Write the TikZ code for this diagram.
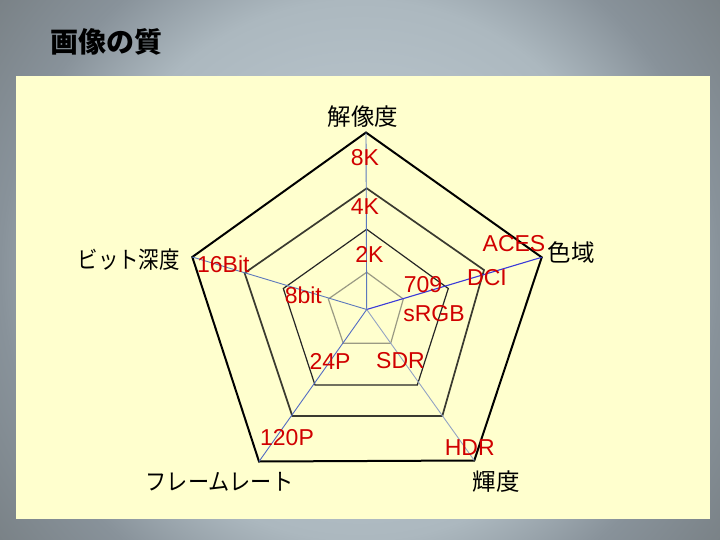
\documentclass[tikz,border=0pt]{standalone}
\usepackage{graphicx}
\usepackage{fontspec}
\setmainfont{Liberation Sans}
\newfontfamily\cjk{Noto Sans CJK JP}
\usetikzlibrary{calc}
\definecolor{bgA}{HTML}{C4D0D8}
\definecolor{bgB}{HTML}{ACB8BF}
\definecolor{bgC}{HTML}{88929A}
\definecolor{bgD}{HTML}{7A8287}
\definecolor{panel}{HTML}{FFFFCE}
\definecolor{lblred}{HTML}{D00000}
\definecolor{spokeA}{HTML}{5C78BC}
\definecolor{spokeB}{HTML}{3A3AD8}
\definecolor{spokeC}{HTML}{93A3C4}
\definecolor{ringB}{HTML}{3A3A30}
\definecolor{ringD}{HTML}{9A9A84}
\pgfdeclareradialshading{bgshade}{\pgfpoint{0bp}{0bp}}{color(0bp)=(bgA); color(15bp)=(bgB); color(20bp)=(bgC); color(25bp)=(bgD); color(50bp)=(bgD)}
\tikzset{
  val/.style={text=lblred, inner sep=0pt, font=\fontsize{23}{23}\selectfont},
  axis/.style={inner sep=0pt, font=\cjk\fontsize{23.5}{24}\selectfont},
  spoke/.style={line width=0.9pt, draw=spokeA},
}
\begin{document}
\begin{tikzpicture}[x=1pt,y=-1pt]
\useasboundingbox (0,0) rectangle (720,540);
\begin{scope}
\clip (0,0) rectangle (720,540);
\shade[shading=bgshade] (-90,-180) rectangle (810,720);
\end{scope}
\fill[panel] (16,76) rectangle (709.5,519);
\node[inner sep=0pt, font=\cjk\bfseries\fontsize{28}{28}\selectfont] (title) at (106.5,42) {画像の質};
% center
\coordinate (c) at (366.7,309.5);
% outer ring
\coordinate (o1) at (366,132.5);
\coordinate (o2) at (541.7,257.3);
\coordinate (o3) at (474.3,460.5);
\coordinate (o4) at (259,461.5);
\coordinate (o5) at (192.3,257);
% second ring
\coordinate (s1) at (366.7,188.3);
\coordinate (s2) at (484,270);
\coordinate (s3) at (442.3,416);
\coordinate (s4) at (292.3,416);
\coordinate (s5) at (244.6,273);
% third ring
\coordinate (t1) at (366.7,229.3);
\coordinate (t2) at (448.3,288.5);
\coordinate (t3) at (417.3,385);
\coordinate (t4) at (315,385);
\coordinate (t5) at (283.3,288.5);
% inner ring
\coordinate (i1) at (366.7,272.3);
\coordinate (i2) at (403.3,299);
\coordinate (i3) at (390.7,343.3);
\coordinate (i4) at (343.3,343.3);
\coordinate (i5) at (328.3,299);
\draw[line width=2pt, line join=miter] (o1) -- (o2) -- (o3) -- (o4) -- (o5) -- cycle;
\draw[line width=1.7pt, draw=ringB] (s1) -- (s2) -- (s3) -- (s4) -- (s5) -- cycle;
\draw[line width=1.2pt, draw=black!85] (t1) -- (t2) -- (t3) -- (t4) -- (t5) -- cycle;
\draw[line width=1.2pt, draw=ringD] (i1) -- (i2) -- (i3) -- (i4) -- (i5) -- cycle;
\draw[spoke] (c) -- (o1);
\draw[spoke, draw=spokeB, line width=1.1pt] (c) -- (o2);
\draw[spoke, draw=spokeC] (c) -- (o3);
\draw[spoke, draw=spokeA!90!blue] (c) -- (o4);
\draw[spoke] (c) -- (o5);
% axis labels
\node[axis] (ax1) at (363,116.5) {解像度};
\node[axis] (ax2) at (571,253) {色域};
\node[axis] (ax3) at (496,481.7) {輝度};
\node[axis] (ax4) at (219.5,481.7) {\scalebox{0.9}[1]{フレームレート}};
\node[axis] (ax5) at (128.7,260) {\scalebox{0.87}[1]{ビット深度}};
% value labels
\node[val] (v8k) at (365,158) {8K};
\node[val] (v4k) at (365,207) {4K};
\node[val] (v2k) at (369.5,254) {2K};
\node[val] (vaces) at (514,243.5) {ACES};
\node[val] (vdci) at (487,277.7) {DCI};
\node[val] (v709) at (423,284.7) {709};
\node[val] (vsrgb) at (434,314) {sRGB};
\node[val] (v16) at (223.3,264.7) {16Bit};
\node[val] (v8b) at (303.3,295) {8bit};
\node[val] (v24) at (330,361) {24P};
\node[val] (vsdr) at (400.5,361) {SDR};
\node[val] (v120) at (287,438) {120P};
\node[val] (vhdr) at (469.7,448) {HDR};
\end{tikzpicture}
\end{document}
